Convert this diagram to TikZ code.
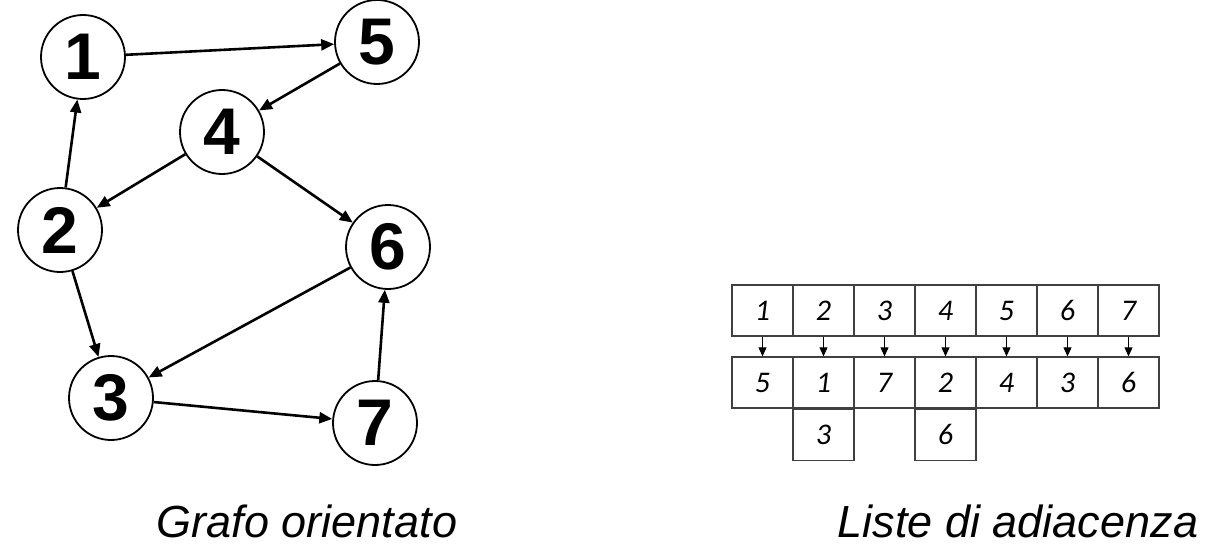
\documentclass[tikz,border=0pt]{standalone}
\usepackage{fontspec}
\setmainfont{Liberation Sans}
\newfontfamily\cellfont{Carlito}
\usetikzlibrary{arrows.meta,positioning}

\begin{document}
\begin{tikzpicture}[x=1pt,y=-1pt,
    vertex/.style={circle,draw,line width=1.8pt,minimum size=84pt,inner sep=0pt,
        font=\fontsize{66}{66}\selectfont\bfseries},
    edge/.style={-{Triangle[length=13pt,width=11pt]},line width=2.6pt},
    cell/.style={draw=black!75,line width=1.3pt,minimum width=61pt,minimum height=51pt,
        inner sep=0pt,font=\fontsize{30}{30}\selectfont\cellfont\itshape},
    link/.style={-{Triangle[length=9pt,width=8pt]},line width=0.9pt}]
    \useasboundingbox (0,0) rectangle (1207,559);

    % grafo
    \node[vertex] (n1) at (83,57) {1};
    \node[vertex] (n5) at (377,42) {5};
    \node[vertex] (n4) at (222,132) {4};
    \node[vertex] (n2) at (60,230) {2};
    \node[vertex] (n6) at (388,247) {6};
    \node[vertex] (n3) at (111,398) {3};
    \node[vertex] (n7) at (375,423) {7};

    \foreach \u/\v in {1/5,5/4,4/2,4/6,2/1,2/3,6/3,3/7,7/6}
        \draw[edge] (n\u) -- (n\v);

    % liste
    \foreach \i/\a in {1/5,2/1,3/7,4/2,5/4,6/3,7/6} {
        \node[cell] (head\i) at ({701.5+61*\i},310.5) {\i};
        \node[cell] (adj\i) at ({701.5+61*\i},382.5) {\a};
        \draw[link] (head\i) -- (adj\i);
    }
    \node[cell,below=0pt of adj2] (adj2b) {3};
    \node[cell,below=0pt of adj4] (adj4b) {6};

    \node[anchor=base] (cap1) at (307,537) {\fontsize{45}{45}\selectfont\itshape Grafo orientato};
    \node[anchor=base] (cap2) at (1018,537) {\fontsize{45}{45}\selectfont\itshape Liste di adiacenza};
\end{tikzpicture}
\end{document}
